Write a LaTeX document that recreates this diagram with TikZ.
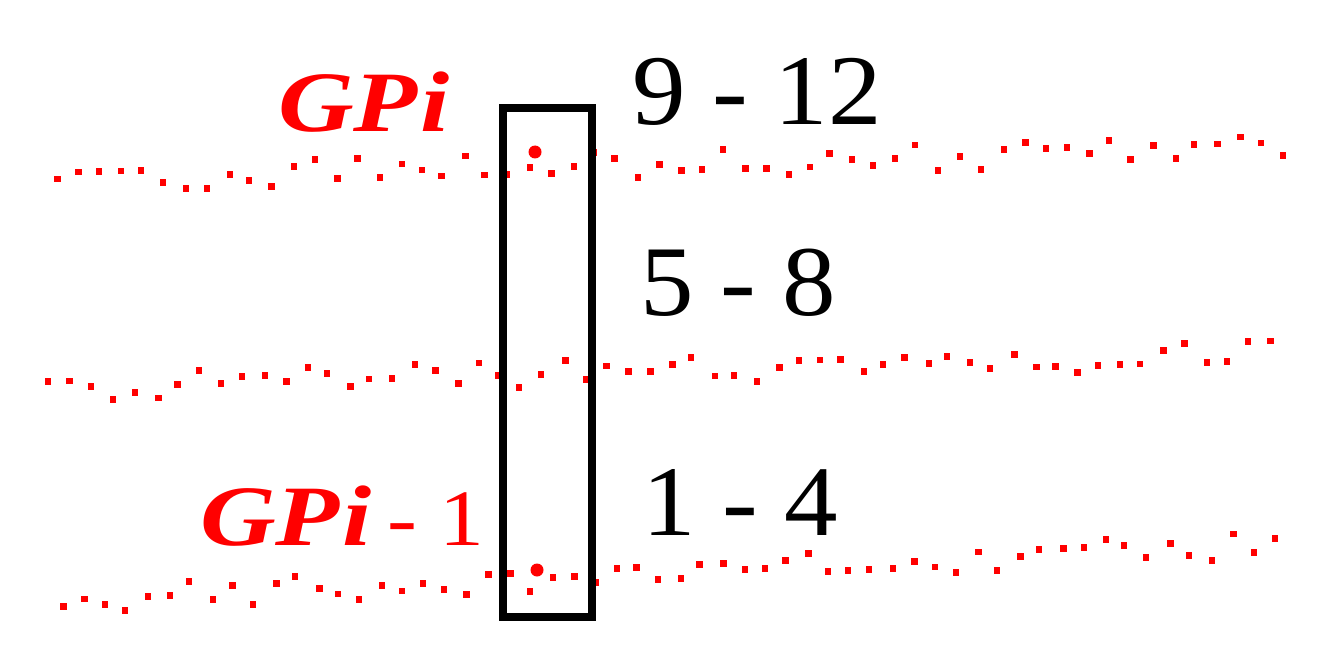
\documentclass[tikz,border=0pt]{standalone}
\usepackage{fontspec}
\setmainfont{Liberation Serif}
\usepackage{graphicx}
\definecolor{gpred}{RGB}{255,0,0}
\tikzset{
  gpdot/.style={fill=gpred},
  gplabel/.style={text=gpred, font=\fontsize{86}{90}\selectfont\bfseries\itshape, inner sep=0, anchor=base west},
  rangelabel/.style={text=black, font=\fontsize{100}{110}\selectfont, inner sep=0, anchor=base west},
  column/.style={draw=black, line width=7.5pt, inner sep=0, minimum width=89pt, minimum height=509pt},
  gpmark/.style={circle, fill=gpred, inner sep=0, minimum size=13pt}
}
\newcommand\gpdotline[5]{% seed, x0, y0, x1, y1
  \pgfmathsetseed{#1}
  \pgfmathsetmacro\gpdx{(#4-#2)/57}
  \pgfmathsetmacro\gpdy{(#5-#3)/57}
  \foreach \i in {0,...,57}{
    \pgfmathsetmacro\px{#2+\i*\gpdx+2*rand}
    \pgfmathsetmacro\py{#3+\i*\gpdy+6.5*round(2.2*rand)}
    \fill[gpdot] (\px-3.2,\py-3.4) rectangle ++(6.4,6.8);
  }
}
\begin{document}
\begin{tikzpicture}[x=1pt,y=-1pt]
\useasboundingbox (0,0) rectangle (1326,666);
% dotted wavy lines
\gpdotline{11}{56}{179}{1282}{149}
\gpdotline{23}{50}{388}{1270}{354}
\gpdotline{37}{62}{600}{1275}{545}
% column
\node[column] (col) at (547.5,362.5) {};
% grid points
\node[gpmark] (gpi) at (535,152) {};
\node[gpmark] (gpim) at (537,570) {};
% labels
\node[gplabel] (lgpi) at (278,132) {\scalebox{1.22}[1]{GP\kern2pt i}};
\node[gplabel] (lgpim) at (200,545) {\scalebox{1.22}[1]{GP\kern2pt i}\kern16pt\mdseries\upshape\fontsize{80}{84}\selectfont\scalebox{1.12}[1]{- 1}};
\node[rangelabel] (r3) at (632,125) {\scalebox{1.07}[1]{9 - 12}};
\node[rangelabel] (r2) at (640,315) {\scalebox{1.07}[1]{5 - 8}};
\node[rangelabel] (r1) at (642,535) {\scalebox{1.07}[1]{1 - 4}};
\end{tikzpicture}
\end{document}
